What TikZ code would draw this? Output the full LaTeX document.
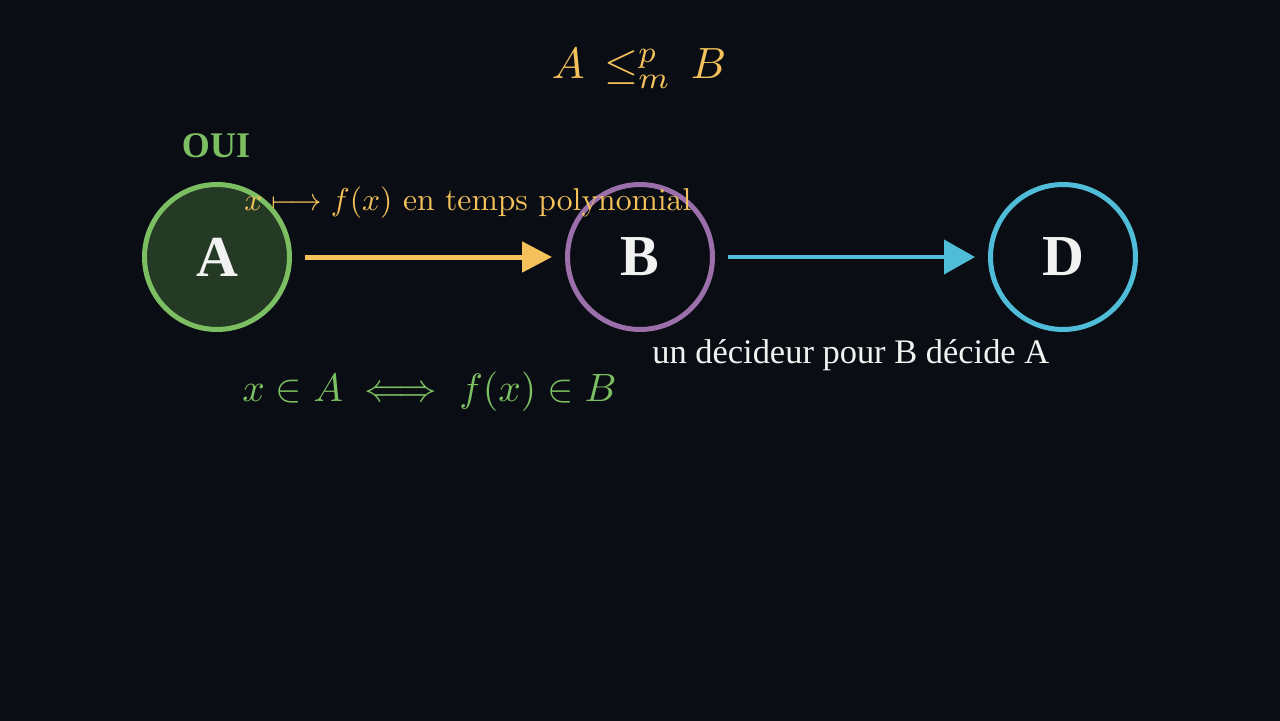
\documentclass[tikz,border=0pt]{standalone}
\usepackage{fontspec}
\usepackage{amsmath}
\usepackage{graphicx}
\usepackage{tikz}
\usetikzlibrary{arrows.meta,backgrounds}
\newfontfamily\timesfont{Liberation Serif}

\definecolor{bgdark}{HTML}{0A0D13}
\definecolor{ouigreen}{HTML}{7CBF63}
\definecolor{afill}{HTML}{243A24}
\definecolor{bpurple}{HTML}{9A6FAA}
\definecolor{dcyan}{HTML}{4FBCD8}
\definecolor{redyellow}{HTML}{F4C15A}
\definecolor{textwhite}{HTML}{F2F2F2}

\begin{document}
\begin{tikzpicture}[x=0.02cm,y=-0.02cm,
	background rectangle/.style={fill=bgdark}, show background rectangle,
	probnode/.style={circle, line width=0.1cm, minimum size=2.9cm, inner sep=0pt, text=textwhite, font=\timesfont\bfseries\fontsize{33}{36}\selectfont},
	mathtext/.style={inner sep=0pt, font=\fontsize{10}{12}\selectfont},
	redarrow/.style={line width=#1, shorten <=0.26cm, shorten >=0.26cm}]

	\useasboundingbox (0,0) rectangle (1280,720);

	\node[mathtext, anchor=base, redyellow] (title) at (639,78) {\scalebox{2.49}{$A \,\leq_m^p\, B$}};
	\node[ouigreen, font=\timesfont\bfseries\fontsize{20.5}{24}\selectfont] (oui) at (216,146) {OUI};

	\node[probnode, draw=ouigreen, fill=afill] (A) at (217,257) {A};
	\node[probnode, draw=bpurple] (B) at (640,257) {B};
	\node[probnode, draw=dcyan] (D) at (1063,257) {D};

	\draw[redarrow=0.1cm, redyellow, -{Triangle[length=0.6cm,width=0.6cm]}] (A) -- (B);
	\draw[redarrow=0.08cm, dcyan, -{Triangle[length=0.62cm,width=0.68cm]}] (B) -- (D);

	\node[mathtext, anchor=base west, redyellow] (map) at (244,210) {\scalebox{1.80}{$x \longmapsto f(x)$ en temps polynomial}};
	\node[anchor=base west, inner sep=0pt, textwhite, font=\timesfont\fontsize{19.6}{24}\selectfont] (dec) at (652,363) {un décideur pour B décide A};
	\node[mathtext, anchor=base west, ouigreen] (equiv) at (242,401) {\scalebox{2.25}{$x \in A \iff f(x) \in B$}};

\end{tikzpicture}
\end{document}
